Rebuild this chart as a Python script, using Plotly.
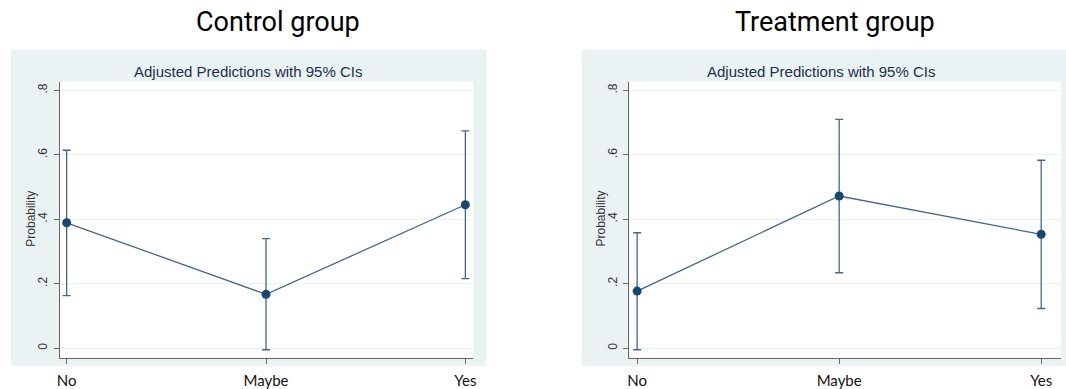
import plotly.graph_objects as go

# Outcome categories on the x axis
categories = ["No", "Maybe", "Yes"]

# Adjusted predictions (probability) and 95% confidence limits
control_pred = [0.389, 0.167, 0.445]
control_lo = [0.163, -0.005, 0.216]
control_hi = [0.614, 0.340, 0.674]

treat_pred = [0.177, 0.472, 0.353]
treat_lo = [-0.005, 0.234, 0.123]
treat_hi = [0.358, 0.710, 0.583]

panel_titles = ["Control group", "Treatment group"]
inner_title = "Adjusted Predictions with 95% CIs"
y_title = "Probability"
y_tickvals = [0, 0.2, 0.4, 0.6, 0.8]
y_ticktext = ["0", ".2", ".4", ".6", ".8"]

W, H = 1066, 389
NAVY = "#1a476f"
CI_COL = "#46668a"
BOX_BG = "#eaf2f3"
GRID = "#edf2f5"


def px_x(v):
    return v / W


def px_y(v):
    return 1 - v / H


fig = go.Figure()

panels = [
    dict(pred=control_pred, lo=control_lo, hi=control_hi,
         box=(8, 486, 50, 368), plot=(57, 473, 82, 360),
         xrange=[-0.035, 2.04], xa="x", ya="y",
         title_x=277, inner_x=246, ytitle_x=28),
    dict(pred=treat_pred, lo=treat_lo, hi=treat_hi,
         box=(582, 1070, 50, 368), plot=(630, 1064, 82, 360),
         xrange=[-0.038, 2.098], xa="x2", ya="y2",
         title_x=837, inner_x=823, ytitle_x=601),
]

shapes = []
annotations = []
for i, p in enumerate(panels):
    up = [h - m for h, m in zip(p["hi"], p["pred"])]
    dn = [m - l for m, l in zip(p["pred"], p["lo"])]
    fig.add_trace(go.Scatter(
        x=categories, y=p["pred"], xaxis=p["xa"], yaxis=p["ya"],
        mode="lines+markers",
        line=dict(color=CI_COL, width=1.3),
        marker=dict(color=NAVY, size=9),
        error_y=dict(type="data", array=up, arrayminus=dn, symmetric=False,
                     color=CI_COL, thickness=1.3, width=4),
        showlegend=False, hoverinfo="skip",
    ))

    bx0, bx1, by0, by1 = p["box"]
    shapes.append(dict(type="rect", xref="paper", yref="paper", layer="below",
                       x0=px_x(bx0), x1=px_x(bx1), y0=px_y(by1), y1=px_y(by0),
                       fillcolor=BOX_BG, line=dict(width=0)))
    qx0, qx1, qy0, qy1 = p["plot"]
    shapes.append(dict(type="rect", xref="paper", yref="paper", layer="below",
                       x0=px_x(qx0), x1=px_x(qx1), y0=px_y(qy1), y1=px_y(qy0),
                       fillcolor="white", line=dict(width=0)))

    annotations.append(dict(text=panel_titles[i], xref="paper", yref="paper",
                            x=px_x(p["title_x"]), y=px_y(22), showarrow=False,
                            xanchor="center", yanchor="middle",
                            font=dict(family="Roboto", size=27, color="#000000")))
    annotations.append(dict(text=inner_title, xref="paper", yref="paper",
                            x=px_x(p["inner_x"]), y=px_y(72),
                            showarrow=False, xanchor="center", yanchor="middle",
                            font=dict(family="Liberation Sans", size=15, color="#1e2f4f")))
    annotations.append(dict(text=y_title, xref="paper", yref="paper",
                            x=px_x(p["ytitle_x"]), y=px_y(220), textangle=-90,
                            showarrow=False, xanchor="center", yanchor="middle",
                            font=dict(family="Liberation Sans", size=12, color="#333333")))

    sfx = "" if i == 0 else "2"
    fig.layout["xaxis" + sfx] = dict(
        domain=[px_x(qx0), px_x(qx1)], range=p["xrange"], type="category",
        anchor="y" + sfx, showline=True, linecolor="#666666", linewidth=1.2,
        ticks="outside", ticklen=5, tickcolor="#666666", showgrid=False,
        zeroline=False, tickfont=dict(family="Lato", size=15, color="#111111"),
        ticklabelstandoff=4,
    )
    fig.layout["yaxis" + sfx] = dict(
        domain=[px_y(qy1), px_y(qy0)], range=[-0.031, 0.827],
        anchor="x" + sfx, showline=True, linecolor="#666666", linewidth=1.2,
        ticks="outside", ticklen=5, tickcolor="#666666",
        tickvals=y_tickvals, ticktext=y_ticktext, tickangle=-90,
        showgrid=True, gridcolor=GRID, gridwidth=1, zeroline=False,
        tickfont=dict(family="Liberation Sans", size=12, color="#333333"),
        ticklabelstandoff=2,
    )

fig.update_layout(
    width=W, height=H, margin=dict(l=0, r=0, t=0, b=0),
    paper_bgcolor="white", plot_bgcolor="white",
    shapes=shapes, annotations=annotations,
)

fig.write_html("out.html")
